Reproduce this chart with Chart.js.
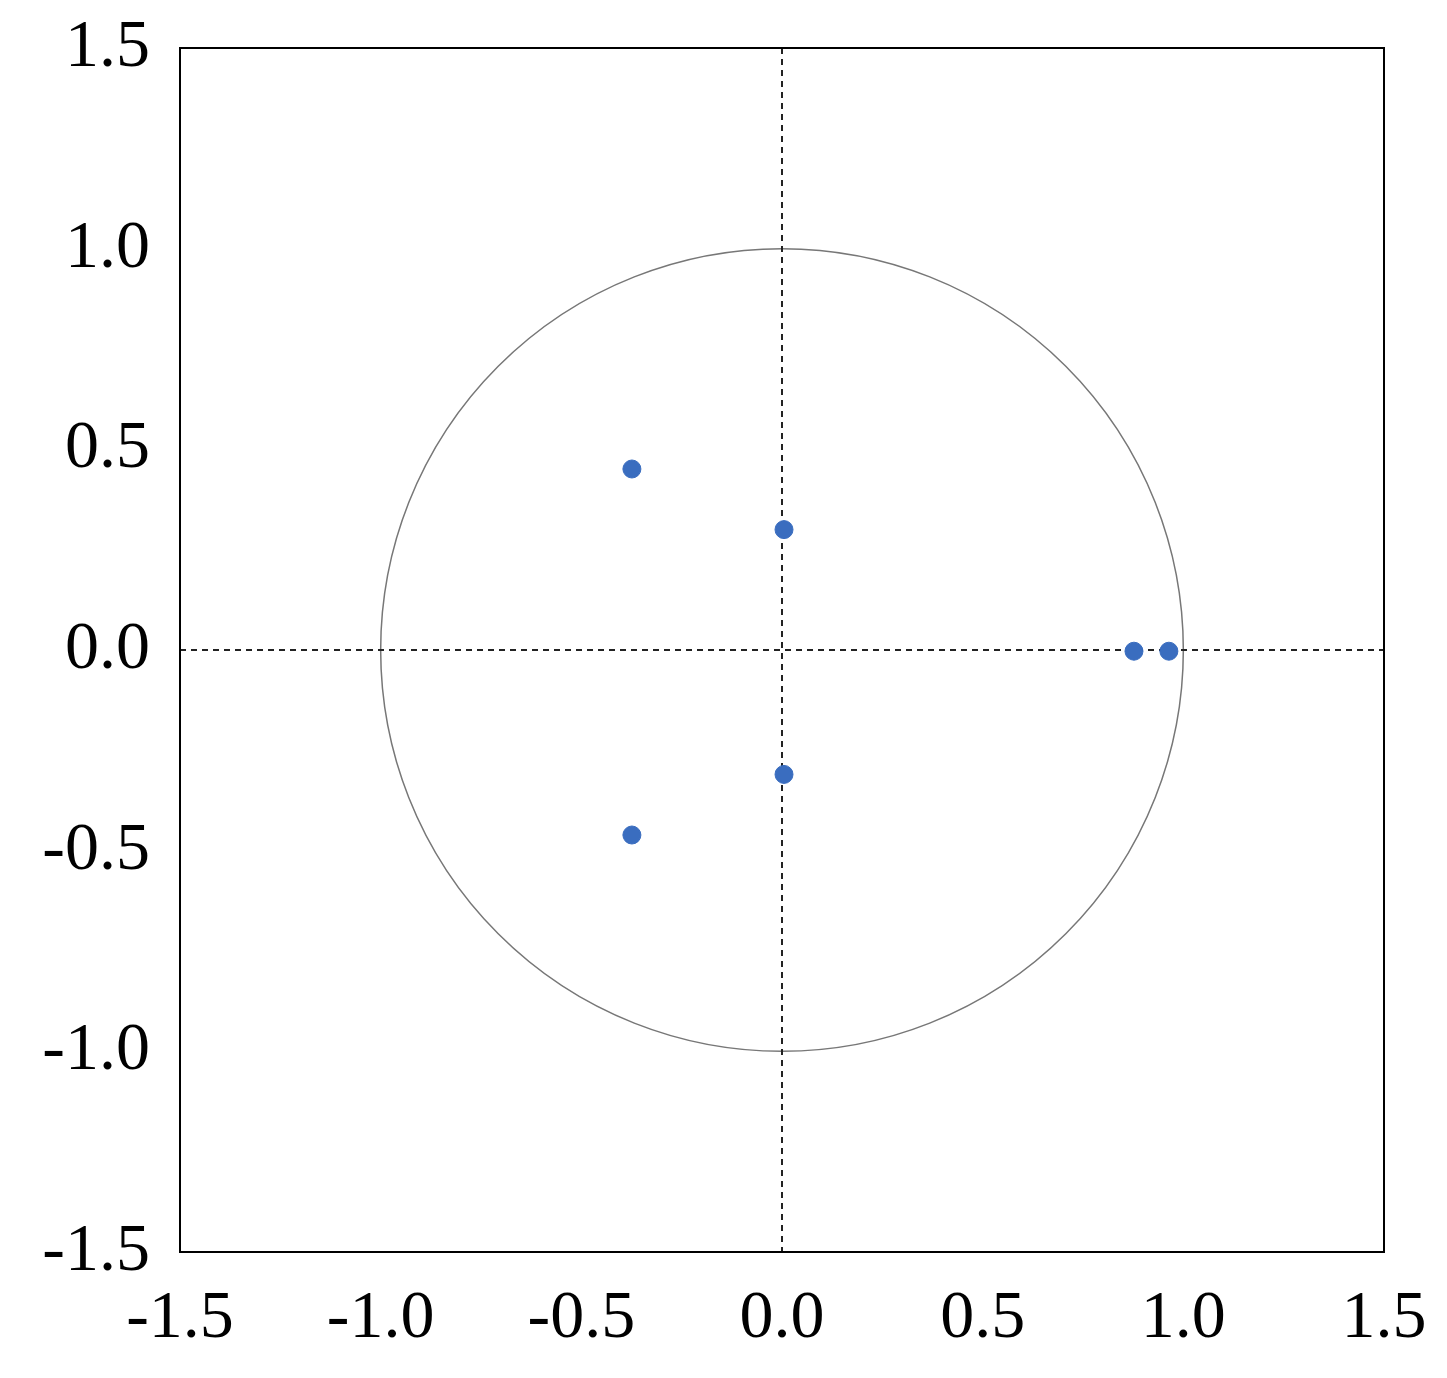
<!DOCTYPE html>
<html>
<head>
<meta charset="utf-8">
<script src="https://cdn.jsdelivr.net/npm/chart.js@4/dist/chart.umd.min.js"></script>
<style>
  body { margin: 0; background: #fff; }
  #wrap { width: 1447px; height: 1378px; }
</style>
</head>
<body>
<div id="wrap"><canvas id="grafico"></canvas></div>
<script>
// roots
var pointsX = [-0.374, 0.005, 0.877, 0.964, 0.005, -0.374];
var pointsY = [0.451, 0.30, -0.003, -0.003, -0.31, -0.461];
var tickValues = [-1.5, -1.0, -0.5, 0.0, 0.5, 1.0, 1.5];
var circleRadius = 1;

var pts = pointsX.map((x, i) => ({ x: x, y: pointsY[i] }));

// unit circle + dashed zero lines + frame
const extras = {
    id: 'extras',
    beforeDatasetsDraw(chart) {
        const c = chart.ctx, xs = chart.scales.x, ys = chart.scales.y, a = chart.chartArea;
        const cx = xs.getPixelForValue(0), cy = ys.getPixelForValue(0);
        const r = xs.getPixelForValue(circleRadius) - cx;
        c.save();
        c.strokeStyle = '#777';
        c.lineWidth = 1.5;
        c.beginPath();
        c.arc(cx, cy, r, 0, Math.PI * 2);
        c.stroke();
        c.strokeStyle = '#222';
        c.lineWidth = 2;
        c.setLineDash([6, 5]);
        c.beginPath();
        c.moveTo(cx, a.top); c.lineTo(cx, a.bottom);
        c.moveTo(a.left, cy); c.lineTo(a.right, cy);
        c.stroke();
        c.setLineDash([]);
        c.strokeStyle = '#000';
        c.lineWidth = 2;
        c.strokeRect(a.left, a.top, a.right - a.left, a.bottom - a.top);
        c.restore();
    }
};

var font = { family: '"Liberation Serif", "DejaVu Serif", serif', size: 68 };

new Chart(document.getElementById('grafico'), {
    type: 'scatter',
    data: {
        datasets: [{
            data: pts,
            backgroundColor: '#3a6dbf',
            borderColor: '#3a6dbf',
            pointRadius: 9,
            pointHoverRadius: 9
        }]
    },
    options: {
        responsive: true,
        maintainAspectRatio: false,
        animation: false,
        layout: { padding: { top: 48, right: 63, left: 0, bottom: 0 } },
        plugins: { legend: { display: false }, tooltip: { enabled: false } },
        scales: {
            x: {
                min: -1.5, max: 1.5,
                afterBuildTicks: s => { s.ticks = tickValues.map(v => ({ value: v })); },
                afterFit: s => { s.height = 1378 - 1252; },
                grid: { display: false, drawTicks: false },
                border: { display: false },
                ticks: { color: '#000', font: font, padding: 26, maxRotation: 0,
                         callback: v => v.toFixed(1) }
            },
            y: {
                min: -1.5, max: 1.5,
                afterBuildTicks: s => { s.ticks = tickValues.map(v => ({ value: v })); },
                afterFit: s => { s.width = 180; },
                grid: { display: false, drawTicks: false },
                border: { display: false },
                ticks: { color: '#000', font: font, padding: 30,
                         callback: v => v.toFixed(1) }
            }
        }
    },
    plugins: [extras, {
        id: 'fixArea',
        afterLayout(chart) {
            // pin the plot frame to the reference's position
            const a = chart.chartArea;
            const top = 48, right = 1384;
            chart.scales.y.top = top; chart.scales.y.bottom = a.bottom; chart.scales.y.height = a.bottom - top;
            chart.scales.x.right = right; chart.scales.x.width = right - a.left;
            a.top = top; a.right = right; a.width = right - a.left; a.height = a.bottom - top;
            chart.scales.y.configure();
            chart.scales.x.configure();
        }
    }]
});
</script>
</body>
</html>
